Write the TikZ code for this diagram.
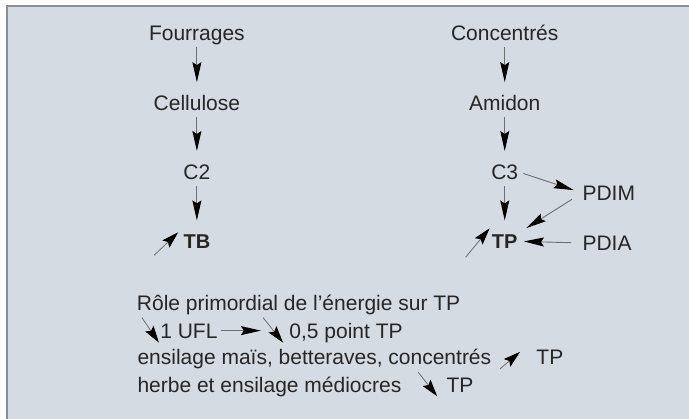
\documentclass[tikz,border=0pt]{standalone}
\usepackage{fontspec}
\setmainfont{Liberation Sans}
\usetikzlibrary{arrows.meta}
\definecolor{boxfill}{HTML}{D4DBE3}
\definecolor{boxline}{HTML}{8A8F96}
\definecolor{ink}{HTML}{262626}
\definecolor{shaft}{HTML}{6E6E6E}
\tikzset{
  lbl/.style={inner sep=0pt, text height=7.5pt, text depth=0pt, text=ink},
  flow/.style={draw=shaft, line width=0.45pt,
    -{Stealth[length=10pt,width=4.5pt,inset=1.5pt,black]}},
  sym/.style={draw=shaft, line width=0.4pt,
    -{Stealth[length=8.5pt,width=5pt,inset=1.5pt,black]}}
}
\begin{document}
\begin{tikzpicture}[font=\fontsize{10.5}{12.6}\selectfont]
      \useasboundingbox (0,0) rectangle (12.108,-7.363);
      % frame
      \fill[boxfill] (0.123,-0.105) rectangle (12.108,-7.363);
      \draw[boxline, line width=1pt] (0.123,-7.363) -- (0.123,-0.105) -- (12.108,-0.105);
      % fourrages column
      \node[lbl] (four) at (3.46, -0.58) {Fourrages};
      \node[lbl] (cell) at (3.46, -1.81) {Cellulose};
      \node[lbl] (c2) at (3.46, -3.02) {C2};
      \node[lbl, font=\bfseries] (tb) at (3.46, -4.24) {TB};
      % concentres column
      \node[lbl] (conc) at (8.87, -0.58) {Concentrés};
      \node[lbl] (amid) at (8.87, -1.81) {Amidon};
      \node[lbl] (c3) at (8.87, -3.02) {C3};
      \node[lbl, font=\bfseries] (tp) at (8.87, -4.24) {TP};
      \node[lbl, anchor=west] (pdim) at (10.23, -3.39) {PDIM};
      \node[lbl, anchor=west] (pdia) at (10.23, -4.27) {PDIA};
      \draw[flow, shorten <=3pt, shorten >=6.5pt] (four) to (cell);
      \draw[flow, shorten <=3pt, shorten >=6.5pt] (cell) to (c2);
      \draw[flow, shorten <=3pt, shorten >=6.5pt] (c2) to (tb);
      \draw[flow, shorten <=3pt, shorten >=6.5pt] (conc) to (amid);
      \draw[flow, shorten <=3pt, shorten >=6.5pt] (amid) to (c3);
      \draw[flow, shorten <=3pt, shorten >=6.5pt] (c3) to (tp);
      \draw[flow, shorten <=2.5pt, shorten >=4.5pt] (c3.east) to (pdim.west);
      \draw[flow, shorten <=6pt, shorten >=5pt] (pdim.west) to (tp.north east);
      \draw[flow, shorten <=5.5pt, shorten >=3pt] (pdia.west) to (tp.east);
      \draw[sym] ([shift={(-14.5pt,-7pt)}]tb.west) -- ++(12pt,11.5pt);
      \draw[sym] ([shift={(-13pt,-8pt)}]tp.west) -- ++(12pt,14.5pt);
      % remarks
      \node[lbl, anchor=west] (role) at (2.40, -5.33) {Rôle primordial de l’énergie sur TP};
      \node[lbl, anchor=west] (ufl) at (2.81, -5.81) {1 UFL};
      \node[lbl, anchor=west] (half) at (5.08, -5.81) {0,5 point TP};
      \node[lbl, anchor=west] (ens) at (2.41, -6.28) {ensilage maïs, betteraves, concentrés};
      \node[lbl, anchor=west] (enstp) at (9.42, -6.28) {TP};
      \node[lbl, anchor=west] (herb) at (2.41, -6.76) {herbe et ensilage médiocres};
      \node[lbl, anchor=west] (herbtp) at (7.84, -6.76) {TP};
      \draw[sym] ([shift={(-9pt,6.5pt)}]ufl.west) -- ++(8.5pt,-12.5pt);
      \draw[flow, shorten <=1.5pt] (ufl.east) -- ++(21.5pt,0);
      \draw[sym] ([shift={(-13pt,6.5pt)}]half.west) -- ++(10pt,-12.5pt);
      \draw[sym] ([shift={(-18pt,-5.75pt)}]enstp.west) -- ++(10pt,8.5pt);
      \draw[sym] ([shift={(-14pt,6.25pt)}]herbtp.west) -- ++(9.5pt,-12pt);
    \end{tikzpicture}
\end{document}
